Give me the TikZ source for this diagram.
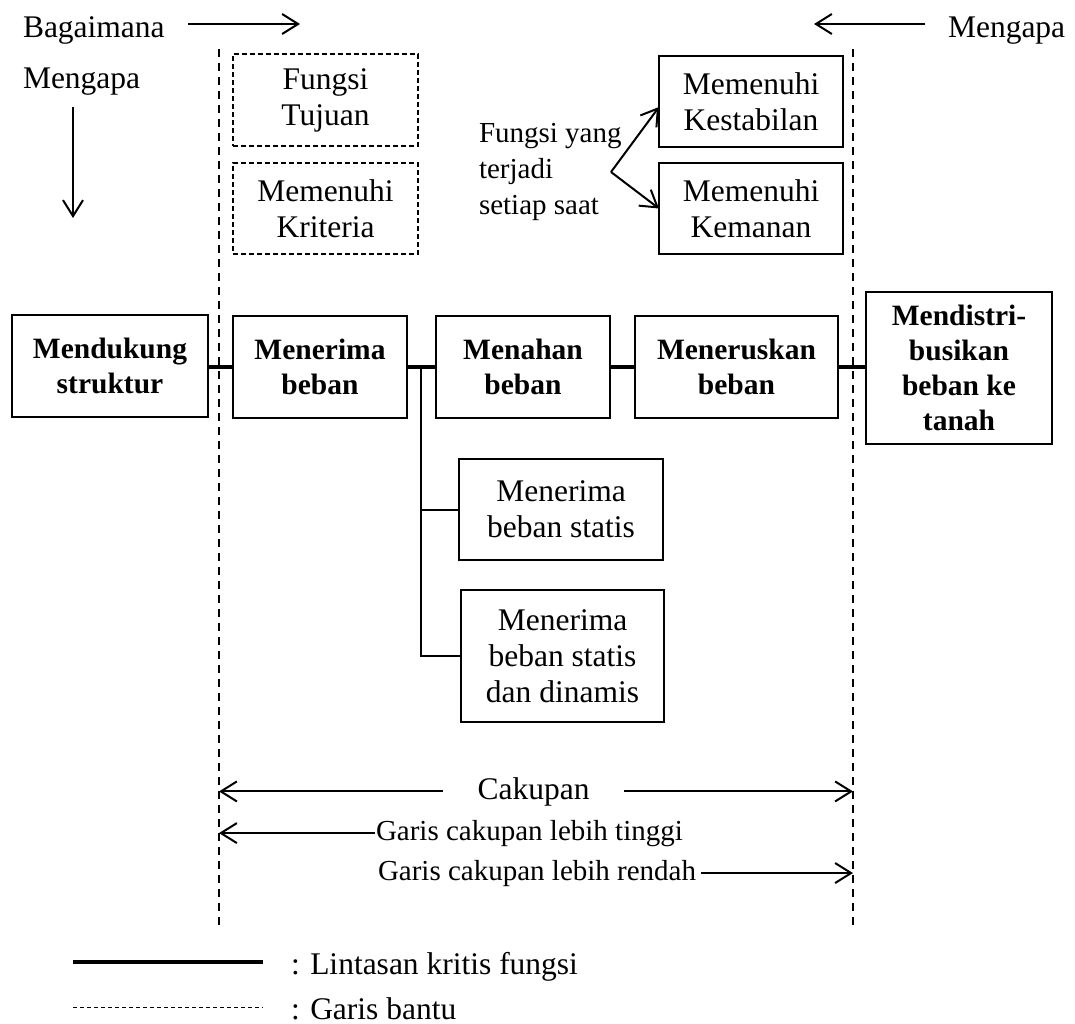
\documentclass[tikz,border=0pt]{standalone}
\usepackage{fontspec}
\setmainfont{Liberation Serif}
\usetikzlibrary{arrows.meta}
\begin{document}
\begin{tikzpicture}[x=0.5pt,y=-0.5pt,line width=1pt,>={Straight Barb[length=8pt,width=10pt]},
  kotak/.style={draw,align=center,inner sep=2pt,outer sep=0pt,line width=0.9pt,font=\fontsize{15.75}{18}\selectfont},
  kotaktebal/.style={kotak,font=\fontsize{14.75}{17.5}\selectfont\bfseries},
  kotakputus/.style={kotak,line width=0.6pt,dash pattern=on 2.5pt off 1.5pt},
  lintasan/.style={line width=2pt},
  bantu/.style={line width=1pt,dash pattern=on 4pt off 3pt},
  teks/.style={inner sep=0pt,anchor=base west,font=\fontsize{15.75}{18}\selectfont},
  tekskecil/.style={inner sep=0pt,font=\fontsize{14.5}{18}\selectfont}]
  \useasboundingbox (0,0) rectangle (1075,1023);
  \coordinate (kiriatas) at (219,49); \coordinate (kiribawah) at (219,925);
  \coordinate (kananatas) at (853,49); \coordinate (kananbawah) at (853,925);
  \draw[bantu] (kiriatas) -- (kiribawah);
  \draw[bantu] (kananatas) -- (kananbawah);
  \node[teks] (bagaimana) at (22,37) {Bagaimana};
  \draw[->] (188,24) -- (300,24);
  \node[teks] (mengapakiri) at (22,88) {Mengapa};
  \draw[->] (73,107) -- (73,218);
  \node[teks] (mengapakanan) at (947,37) {Mengapa};
  \draw[->] (925,24) -- (814,24);
  \node[kotakputus,minimum width=92.5pt,minimum height=46pt] (tujuan) at (325.5,100) {Fungsi\\Tujuan};
  \node[kotakputus,minimum width=92.5pt,minimum height=45.5pt] (kriteria) at (325.5,208.5) {Memenuhi\\Kriteria};
  \node[kotak,minimum width=92pt,minimum height=45.5pt] (stabil) at (751,101.5) {Memenuhi\\Kestabilan};
  \node[kotak,minimum width=92pt,minimum height=45.5pt] (aman) at (751,208.5) {Memenuhi\\Kemanan};
  \node[tekskecil,align=left,anchor=north west] (fungsi) at (478,122) {Fungsi yang\\terjadi\\setiap saat};
  \coordinate (garpu) at (611,172);
  \draw[->] (garpu) -- ([yshift=-2.75pt]stabil.west);
  \draw[->] (garpu) -- (aman.west);
  \node[kotaktebal,minimum width=98pt,minimum height=51pt] (dukung) at (110,366) {Mendukung\\struktur};
  \node[kotaktebal,minimum width=87pt,minimum height=51pt] (terima) at (320,367) {Menerima\\beban};
  \node[kotaktebal,minimum width=87pt,minimum height=51pt] (tahan) at (523,367) {Menahan\\beban};
  \node[kotaktebal,minimum width=101.5pt,minimum height=51pt] (terus) at (736.5,367) {Meneruskan\\beban};
  \node[kotaktebal,minimum width=93pt,minimum height=76pt] (sebar) at (959,368) {Mendistri-\\busikan\\beban ke\\tanah};
  \draw[lintasan] (dukung.east |- terima.west) -- (terima.west);
  \draw[lintasan] (terima.east) -- (tahan.west);
  \draw[lintasan] (tahan.east) -- (terus.west);
  \draw[lintasan] (terus.east) -- (terus.east -| sebar.west);
  \node[kotak,minimum width=102pt,minimum height=50.5pt] (statis) at (561,509.5) {Menerima\\beban statis};
  \node[kotak,minimum width=101.5pt,minimum height=66pt] (dinamis) at (562.5,656) {Menerima\\beban statis\\dan dinamis};
  \coordinate (cabang) at (421,367);
  \draw (cabang) |- (statis.west);
  \draw (cabang) |- (dinamis.west);
  \node[teks,anchor=base,inner xsep=17pt] (cakupan) at (533.5,799) {Cakupan};
  \draw[->] (cakupan.west) -- (cakupan.west -| kiriatas);
  \draw[->] (cakupan.east) -- (cakupan.east -| kananatas);
  \node[tekskecil,anchor=base west] (tinggi) at (375,840) {Garis cakupan lebih tinggi};
  \draw[->] (tinggi.west) -- (tinggi.west -| kiriatas);
  \node[tekskecil,anchor=base west,inner xsep=2pt] (rendah) at (373,880) {Garis cakupan lebih rendah};
  \draw[->] (rendah.east) -- (rendah.east -| kananatas);
  \draw[lintasan] (73,962) -- (263,962);
  \node[teks] (ketlintasan) at (290,974) {: Lintasan kritis fungsi};
  \draw[line width=0.5pt,dash pattern=on 2pt off 1.5pt] (73,1007) -- (263,1007);
  \node[teks] (ketbantu) at (290,1019) {: Garis bantu};
\end{tikzpicture}
\end{document}
